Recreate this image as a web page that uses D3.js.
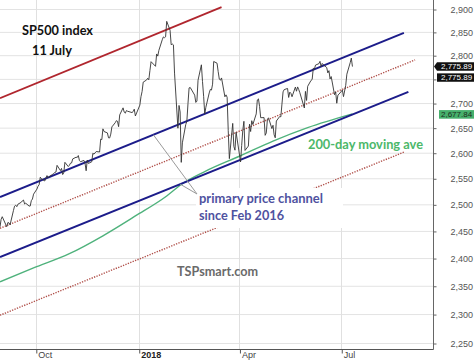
<!DOCTYPE html>
<html><head><meta charset="utf-8">
<script src="https://cdn.jsdelivr.net/npm/d3@7"></script>
<style>body{margin:0;background:#fff;}svg{display:block;}</style>
</head><body>
<svg id="chart" width="474" height="360"></svg>
<script>
// ---------- DATA ----------
const priceDates = [
"2017-08-30","2017-08-31","2017-09-01","2017-09-05","2017-09-06","2017-09-07","2017-09-08","2017-09-11","2017-09-12","2017-09-13","2017-09-14","2017-09-15","2017-09-18","2017-09-19","2017-09-20","2017-09-21","2017-09-22","2017-09-25","2017-09-26","2017-09-27","2017-09-28","2017-09-29",
"2017-10-02","2017-10-03","2017-10-04","2017-10-05","2017-10-06","2017-10-09","2017-10-10","2017-10-11","2017-10-12","2017-10-13","2017-10-16","2017-10-17","2017-10-18","2017-10-19","2017-10-20","2017-10-23","2017-10-24","2017-10-25","2017-10-26","2017-10-27","2017-10-30","2017-10-31",
"2017-11-01","2017-11-02","2017-11-03","2017-11-06","2017-11-07","2017-11-08","2017-11-09","2017-11-10","2017-11-13","2017-11-14","2017-11-15","2017-11-16","2017-11-17","2017-11-20","2017-11-21","2017-11-22","2017-11-24","2017-11-27","2017-11-28","2017-11-29","2017-11-30",
"2017-12-01","2017-12-04","2017-12-05","2017-12-06","2017-12-07","2017-12-08","2017-12-11","2017-12-12","2017-12-13","2017-12-14","2017-12-15","2017-12-18","2017-12-19","2017-12-20","2017-12-21","2017-12-22","2017-12-26","2017-12-27","2017-12-28","2017-12-29",
"2018-01-02","2018-01-03","2018-01-04","2018-01-05","2018-01-08","2018-01-09","2018-01-10","2018-01-11","2018-01-12","2018-01-16","2018-01-17","2018-01-18","2018-01-19","2018-01-22","2018-01-23","2018-01-24","2018-01-25","2018-01-26","2018-01-29","2018-01-30","2018-01-31",
"2018-02-01","2018-02-02","2018-02-05","2018-02-06","2018-02-07","2018-02-08","2018-02-09","2018-02-12","2018-02-13","2018-02-14","2018-02-15","2018-02-16","2018-02-20","2018-02-21","2018-02-22","2018-02-23","2018-02-26","2018-02-27","2018-02-28",
"2018-03-01","2018-03-02","2018-03-05","2018-03-06","2018-03-07","2018-03-08","2018-03-09","2018-03-12","2018-03-13","2018-03-14","2018-03-15","2018-03-16","2018-03-19","2018-03-20","2018-03-21","2018-03-22","2018-03-23","2018-03-26","2018-03-27","2018-03-28","2018-03-29",
"2018-04-02","2018-04-03","2018-04-04","2018-04-05","2018-04-06","2018-04-09","2018-04-10","2018-04-11","2018-04-12","2018-04-13","2018-04-16","2018-04-17","2018-04-18","2018-04-19","2018-04-20","2018-04-23","2018-04-24","2018-04-25","2018-04-26","2018-04-27","2018-04-30",
"2018-05-01","2018-05-02","2018-05-03","2018-05-04","2018-05-07","2018-05-08","2018-05-09","2018-05-10","2018-05-11","2018-05-14","2018-05-15","2018-05-16","2018-05-17","2018-05-18","2018-05-21","2018-05-22","2018-05-23","2018-05-24","2018-05-25","2018-05-29","2018-05-30","2018-05-31",
"2018-06-01","2018-06-04","2018-06-05","2018-06-06","2018-06-07","2018-06-08","2018-06-11","2018-06-12","2018-06-13","2018-06-14","2018-06-15","2018-06-18","2018-06-19","2018-06-20","2018-06-21","2018-06-22","2018-06-25","2018-06-26","2018-06-27","2018-06-28","2018-06-29",
"2018-07-02","2018-07-03","2018-07-05","2018-07-06","2018-07-09","2018-07-10","2018-07-11"];
const priceValues = [
2457.6,2471.7,2476.6,2457.9,2465.5,2465.1,2461.4,2488.1,2496.5,2498.4,2495.6,2500.2,2503.9,2506.7,2508.2,2500.6,2502.2,2496.7,2496.8,2507.0,2510.1,2519.4,
2529.1,2534.6,2537.7,2552.1,2549.3,2544.7,2550.6,2555.2,2550.9,2553.2,2557.6,2559.4,2561.3,2562.1,2575.2,2565.0,2569.1,2557.2,2560.4,2581.1,2572.8,2575.3,
2579.4,2579.9,2587.8,2591.1,2590.6,2594.4,2584.6,2582.3,2584.8,2578.9,2564.6,2585.6,2578.9,2582.1,2599.0,2597.1,2602.4,2601.4,2627.0,2626.1,2647.6,
2642.2,2639.4,2629.6,2629.3,2637.0,2651.5,2660.0,2664.1,2662.9,2652.0,2675.8,2690.2,2681.5,2679.3,2684.6,2683.3,2680.5,2682.6,2687.5,2673.6,
2695.8,2713.1,2724.0,2743.2,2747.7,2751.3,2748.2,2767.6,2786.2,2776.4,2802.6,2798.0,2810.3,2833.0,2839.1,2837.5,2839.3,2872.9,2853.5,2822.4,2823.8,
2822.0,2762.1,2648.9,2695.1,2681.7,2581.0,2619.6,2656.0,2662.9,2698.6,2731.2,2732.2,2716.3,2701.3,2704.0,2747.3,2779.6,2744.3,2713.8,
2677.7,2691.3,2720.9,2728.1,2726.8,2739.0,2786.6,2783.0,2765.3,2749.5,2747.3,2752.0,2712.9,2716.9,2711.9,2643.7,2588.3,2658.6,2612.6,2605.0,2640.9,
2581.9,2614.5,2644.7,2662.8,2604.5,2613.2,2656.9,2642.2,2664.0,2656.3,2677.8,2706.4,2708.6,2693.1,2670.1,2670.3,2634.6,2639.4,2666.9,2669.9,2648.1,
2654.8,2635.7,2629.7,2663.4,2672.6,2671.9,2697.8,2723.1,2727.7,2730.1,2711.5,2722.5,2720.1,2713.0,2733.0,2724.4,2733.3,2727.8,2721.3,2689.9,2724.0,2705.3,
2734.6,2746.9,2748.8,2772.4,2770.4,2779.0,2782.0,2786.9,2775.6,2782.5,2779.7,2773.8,2762.6,2767.3,2749.8,2754.9,2717.1,2723.1,2699.6,2716.3,2718.4,
2726.7,2713.2,2736.6,2759.8,2784.2,2793.8,2775.89];

const maDates  = ["2017-08-30","2017-09-29","2017-10-31","2017-11-30","2017-12-29","2018-01-26","2018-02-08","2018-03-01","2018-04-02","2018-05-01","2018-06-01","2018-07-11"];
const maValues = [2357, 2382, 2408, 2441, 2478, 2516, 2538, 2563, 2594, 2623, 2650, 2677.84];

// channel lines: [start date, end date], [start value, end value]
const redUpperDates = ["2017-08-30","2018-03-16"],  redUpperValues = [2710, 2904];
const navyUpperDates = ["2017-08-30","2018-08-26"], navyUpperValues = [2514, 2848];
const dotMidDates = ["2017-08-30","2018-09-05"],    dotMidValues = [2455, 2790];
const navyLowerDates = ["2017-08-30","2018-08-30"], navyLowerValues = [2402, 2723];
const dotLowDates = ["2017-08-30","2018-08-27"],    dotLowValues = [2298, 2602];

// gridlines at every 50; the 2,750 label is hidden behind the last-price tags in the reference
const yTicks = [2250,2300,2350,2400,2450,2500,2550,2600,2650,2700,2750,2800,2850,2900];
const yLabelTicks = [2250,2300,2350,2400,2450,2500,2550,2600,2650,2700,2800,2850,2900];
const xTickDates = ["2017-10-01","2018-01-01","2018-04-01","2018-07-01"];
const xTickLabels = ["Oct","2018","Apr","Jul"];
const lastPrice = 2775.89;
const lastMA = 2677.84;

// ---------- CHART ----------
const parse = d3.timeParse("%Y-%m-%d");
const svg = d3.select("#chart");
const W = 433, H = 349;
const x = d3.scaleTime().domain([parse("2017-08-30"), parse("2018-09-21")]).range([0, W]);
const y = d3.scaleLog().domain([2250, 2900]).range([343, 9]);

svg.append("defs").append("clipPath").attr("id","plot")
  .append("rect").attr("x",0).attr("y",0).attr("width",W).attr("height",H);

// gridlines
const grid = svg.append("g");
grid.selectAll("line.h").data(yTicks).join("line")
  .attr("x1",0).attr("x2",W).attr("y1",d=>y(d)+0.5).attr("y2",d=>y(d)+0.5)
  .attr("stroke","#e3e3e3").attr("stroke-width",1);
grid.selectAll("line.v").data(xTickDates).join("line")
  .attr("x1",d=>Math.round(x(parse(d)))+0.5).attr("x2",d=>Math.round(x(parse(d)))+0.5)
  .attr("y1",0).attr("y2",H).attr("stroke","#e0e0e0").attr("stroke-width",1);

const plot = svg.append("g").attr("clip-path","url(#plot)");
const line = d3.line().x(d=>x(d[0])).y(d=>y(d[1]));
function seg(dates, values){ return dates.map((d,i)=>[parse(d), values[i]]); }

function addLine(dates, values, color, width, dash){
  const p = plot.append("path").datum(seg(dates, values)).attr("d", line)
    .attr("fill","none").attr("stroke",color).attr("stroke-width",width);
  if (dash) p.attr("stroke-dasharray", dash);
  return p;
}
addLine(dotLowDates, dotLowValues, "#b0504a", 1.4, "1.3,1.3");
addLine(dotMidDates, dotMidValues, "#b0504a", 1.4, "1.3,1.3");
addLine(redUpperDates, redUpperValues, "#b0262e", 1.8);

// 200-day MA
plot.append("path").datum(seg(maDates, maValues))
  .attr("d", d3.line().x(d=>x(d[0])).y(d=>y(d[1])).curve(d3.curveMonotoneX))
  .attr("fill","none").attr("stroke","#4fb27c").attr("stroke-width",1.4);

addLine(navyUpperDates, navyUpperValues, "#1c1c8a", 2);
addLine(navyLowerDates, navyLowerValues, "#1c1c8a", 2);

// price
plot.append("path").datum(seg(priceDates, priceValues)).attr("d", line)
  .attr("fill","none").attr("stroke","#333").attr("stroke-width",0.9).attr("stroke-linejoin","round");

// annotation: white label box
svg.append("rect").attr("x",196).attr("y",188).attr("width",147).attr("height",40).attr("fill","#fff");

// leader lines from label to channel lines
function geoAt(dates, values, ds){
  const t0 = parse(dates[0]), t1 = parse(dates[1]), t = parse(ds);
  const f = (t - t0) / (t1 - t0);
  return Math.exp(Math.log(values[0]) + f * (Math.log(values[1]) - Math.log(values[0])));
}
const leaders = [["2018-01-14", navyUpperDates, navyUpperValues], ["2018-02-07", navyLowerDates, navyLowerValues]];
svg.selectAll("line.leader").data(leaders).join("line")
  .attr("x1",197).attr("y1",194)
  .attr("x2",d=>x(parse(d[0]))).attr("y2",d=>y(geoAt(d[1],d[2],d[0])))
  .attr("stroke","#9a9a9a").attr("stroke-width",1);

// texts
const F = "Lato, 'Open Sans', sans-serif";
function txt(t, tx, ty, color, len){
  svg.append("text").attr("x",tx).attr("y",ty).text(t)
    .attr("font-family",F).attr("font-weight","bold").attr("font-size",13)
    .attr("fill",color).attr("textLength",len).attr("lengthAdjust","spacingAndGlyphs");
}
txt("SP500 index", 22, 34.5, "#111", 71);
txt("11 July", 32, 54.5, "#111", 40);
txt("primary price channel", 199, 203, "#4f529f", 124);
txt("since Feb 2016", 199, 220, "#4f529f", 85);
txt("200-day moving ave", 308, 148.5, "#4cb86a", 115);
txt("TSPsmart.com", 177, 276, "#6a6a6a", 81);

// right axis
svg.append("line").attr("x1",W+0.5).attr("x2",W+0.5).attr("y1",0).attr("y2",H+0.5).attr("stroke","#666");
const yAxis = svg.append("g").attr("transform",`translate(${W+0.5},0.5)`)
  .call(d3.axisRight(y).tickValues(yTicks)
    .tickFormat(d => yLabelTicks.includes(d) ? d3.format(",")(d) : "")
    .tickSize(3).tickPadding(14));
yAxis.select(".domain").remove();
yAxis.selectAll("line").attr("stroke","#666");
yAxis.selectAll("text").filter(d => !yLabelTicks.includes(d)).remove();
yAxis.selectAll("text").attr("font-family","'Liberation Sans', Arial, sans-serif").attr("font-size",9).attr("fill","#555");

// bottom axis
svg.append("line").attr("x1",0).attr("x2",W+0.5).attr("y1",H+0.5).attr("y2",H+0.5).attr("stroke","#555");
const xg = svg.append("g").attr("transform",`translate(0,${H+0.5})`)
  .call(d3.axisBottom(x).tickValues(xTickDates.map(parse)).tickFormat((d,i)=>xTickLabels[i]).tickSize(4));
xg.select(".domain").remove();
xg.selectAll("line").attr("stroke","#555").attr("transform","translate(0.5,0)");
xg.selectAll("text").attr("text-anchor","start").attr("dx",2).attr("y",8).attr("dy",0)
  .attr("font-family","'Liberation Sans', Arial, sans-serif").attr("font-size",9)
  .attr("font-weight",(d,i)=>i===1?"bold":"normal").attr("fill",(d,i)=>i===1?"#222":"#444");

// last-value tags
const vf = "'Liberation Sans', Arial, sans-serif";
const yp = y(lastPrice);
svg.append("path").attr("d",`M${W+1},${yp} L${W+4},${yp-4.3} H474 V${yp+4.3} H${W+4} Z`).attr("fill","#111");
svg.append("rect").attr("x",W+4).attr("y",yp+6.8).attr("width",40).attr("height",8.4).attr("fill","#111");
[yp + 2.9, yp + 13.9].forEach(v=>{
  svg.append("text").attr("x",W+8).attr("y",v).text(d3.format(",.2f")(lastPrice))
    .attr("font-family",vf).attr("font-size",8).attr("fill","#fff");
});
const ym = y(lastMA);
svg.append("rect").attr("x",W+6).attr("y",ym-3.8).attr("width",40).attr("height",8.6).attr("fill","#46b06c");
svg.append("text").attr("x",W+8).attr("y",ym+3.2).text(d3.format(",.2f")(lastMA))
  .attr("font-family",vf).attr("font-size",8).attr("fill","#1d2e1d");
</script>
</body></html>
